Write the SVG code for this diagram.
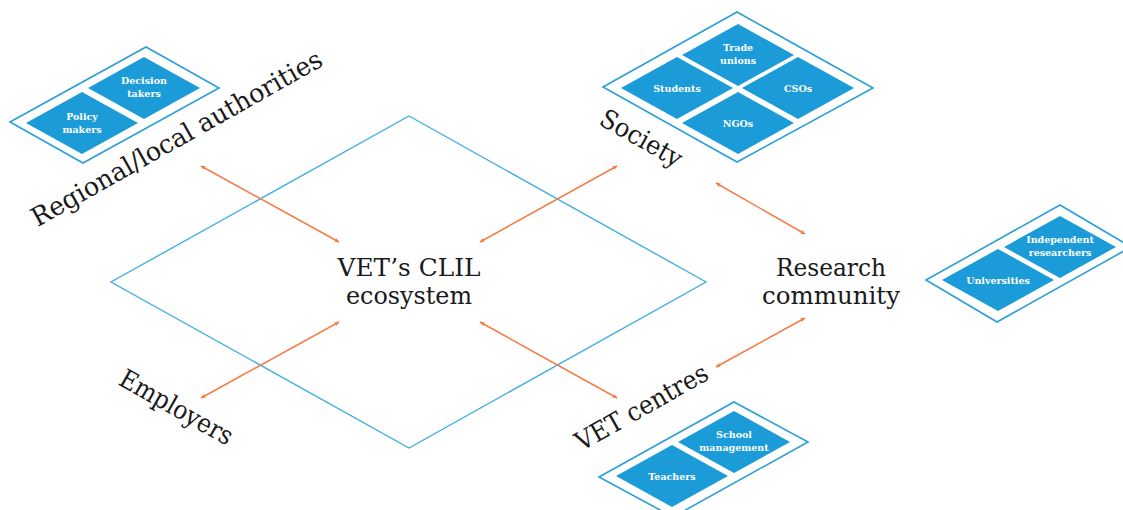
<svg xmlns="http://www.w3.org/2000/svg" width="1123" height="510" viewBox="0 0 1123 510">
<style>
.outer{fill:#fff;stroke:#2a9fd8;stroke-width:1.6}
.tile{fill:#1b9bd7}
.tt{font-family:"DejaVu Serif","Liberation Serif",serif;font-size:9.5px;font-weight:bold;fill:#fff;text-anchor:middle}
.lbl{font-family:"DejaVu Serif","Liberation Serif",serif;font-size:26px;fill:#1a1a1a;text-anchor:middle}
.ctr{font-family:"DejaVu Serif","Liberation Serif",serif;font-size:23.5px;fill:#1a1a1a;text-anchor:middle}
.conn{stroke:#f47c44;stroke-width:1.5;fill:none;marker-start:url(#ah);marker-end:url(#ah)}
</style>
<defs>
<marker id="ah" viewBox="0 0 10 10" refX="9" refY="5" markerWidth="5" markerHeight="5" orient="auto-start-reverse" markerUnits="userSpaceOnUse">
<path d="M0,1 L10,5 L0,9 Z" fill="#f47c44"/>
</marker>
<polygon id="tl" points="-56,0 0,-31 56,0 0,31"/>
</defs>

<g id="ecosystem">
<polygon points="409,116 706,282 409,448 111,282" fill="none" stroke="#45b0e0" stroke-width="1.4"/>
<text class="ctr" x="409" y="276" textLength="143" lengthAdjust="spacingAndGlyphs">VET’s CLIL</text>
<text class="ctr" x="409" y="304" textLength="126" lengthAdjust="spacingAndGlyphs">ecosystem</text>
</g>

<g id="regional">
<polygon class="outer" points="10,122 146,47 219,88 83,163"/>
<use href="#tl" class="tile" x="82" y="123"/>
<use href="#tl" class="tile" x="144" y="88"/>
<text class="tt" x="82" y="120">Policy</text>
<text class="tt" x="82" y="133">makers</text>
<text class="tt" x="144" y="84">Decision</text>
<text class="tt" x="144" y="97">takers</text>
<text class="lbl" transform="translate(181,146) rotate(-29.5)" textLength="330" lengthAdjust="spacingAndGlyphs">Regional/local authorities</text>
</g>

<g id="society">
<polygon class="outer" points="603,87 737,12 873,88 737,162"/>
<use href="#tl" class="tile" x="738" y="55"/>
<use href="#tl" class="tile" x="677" y="88"/>
<use href="#tl" class="tile" x="798" y="88"/>
<use href="#tl" class="tile" x="738" y="123"/>
<text class="tt" x="738" y="51">Trade</text>
<text class="tt" x="738" y="64">unions</text>
<text class="tt" x="677" y="92">Students</text>
<text class="tt" x="798" y="92">CSOs</text>
<text class="tt" x="738" y="127">NGOs</text>
<text class="lbl" transform="translate(637,146) rotate(29.5)" textLength="90" lengthAdjust="spacingAndGlyphs">Society</text>
</g>

<g id="research">
<polygon class="outer" points="926,280 1060,205 1131,247 997,322"/>
<use href="#tl" class="tile" x="998" y="280"/>
<use href="#tl" class="tile" x="1060" y="247"/>
<text class="tt" x="998" y="284">Universities</text>
<text class="tt" x="1060" y="243">Independent</text>
<text class="tt" x="1060" y="256">researchers</text>
<text class="ctr" x="831" y="276" textLength="110" lengthAdjust="spacingAndGlyphs">Research</text>
<text class="ctr" x="831" y="304" textLength="138" lengthAdjust="spacingAndGlyphs">community</text>
</g>

<g id="employers">
<text class="lbl" transform="translate(172,415) rotate(29.5)" textLength="126" lengthAdjust="spacingAndGlyphs">Employers</text>
</g>

<g id="vet-centres">
<polygon class="outer" points="599,477 734,402 808,442 673,517"/>
<use href="#tl" class="tile" x="672" y="476"/>
<use href="#tl" class="tile" x="734" y="442"/>
<text class="tt" x="672" y="480">Teachers</text>
<text class="tt" x="734" y="438">School</text>
<text class="tt" x="734" y="451">management</text>
<text class="lbl" transform="translate(646,415) rotate(-29.5)" textLength="148" lengthAdjust="spacingAndGlyphs">VET centres</text>
</g>

<g id="connectors">
<line class="conn" x1="201" y1="166" x2="339" y2="242"/>
<line class="conn" x1="617" y1="166" x2="480" y2="242"/>
<line class="conn" x1="201" y1="398" x2="339" y2="322"/>
<line class="conn" x1="617" y1="398" x2="480" y2="322"/>
<line class="conn" x1="716" y1="183" x2="805" y2="234"/>
<line class="conn" x1="805" y1="318" x2="716" y2="367"/>
</g>
</svg>
